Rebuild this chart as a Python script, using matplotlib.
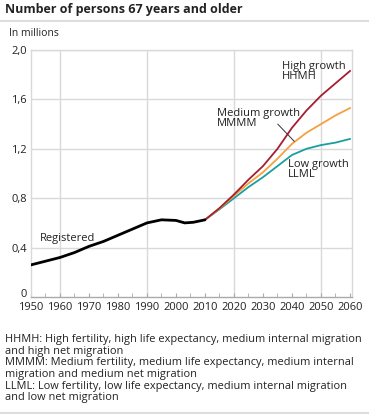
import matplotlib.pyplot as plt
from matplotlib.ticker import FixedLocator, FuncFormatter

plt.rcParams['font.family'] = ['Open Sans', 'DejaVu Sans']

# Registered values (millions)
reg_years = [1950, 1955, 1960, 1965, 1970, 1975, 1980, 1985, 1990, 1995, 2000, 2003, 2006, 2010]
reg_values = [0.26, 0.29, 0.32, 0.36, 0.41, 0.45, 0.50, 0.55, 0.60, 0.625, 0.62, 0.60, 0.605, 0.625]

# Projections (millions)
proj_years = [2010, 2015, 2020, 2025, 2030, 2035, 2040, 2045, 2050, 2055, 2060]
high_growth = [0.625, 0.72, 0.83, 0.95, 1.06, 1.20, 1.37, 1.51, 1.63, 1.73, 1.83]
medium_growth = [0.625, 0.715, 0.82, 0.92, 1.01, 1.12, 1.24, 1.33, 1.40, 1.47, 1.53]
low_growth = [0.625, 0.71, 0.80, 0.89, 0.97, 1.06, 1.15, 1.20, 1.23, 1.25, 1.28]

W, H = 369, 415
fig = plt.figure(figsize=(W / 100, H / 100), dpi=100)

grid_c = '#d9d9d9'
text_c = '#222222'
fs = 8

ax = fig.add_axes([31 / W, (H - 297) / H, (352 - 31) / W, (297 - 50) / H])
ax.set_xlim(1950, 2060.7)
ax.set_ylim(0, 2.0)

ax.plot(reg_years, reg_values, color='black', lw=2.0, solid_capstyle='round', zorder=4)
ax.plot(proj_years, low_growth, color='#1a9e9e', lw=1.3, zorder=3)
ax.plot(proj_years, medium_growth, color='#f5a040', lw=1.3, zorder=3)
ax.plot(proj_years, high_growth, color='#a31f30', lw=1.3, zorder=3)

# grid
ax.yaxis.set_major_locator(FixedLocator([0, 0.4, 0.8, 1.2, 1.6, 2.0]))
ax.yaxis.set_major_formatter(FuncFormatter(lambda v, p: '0' if v == 0 else f'{v:.1f}'.replace('.', ',')))
for v in [0.4, 0.8, 1.2, 1.6, 2.0]:
    ax.axhline(v, color=grid_c, lw=1, zorder=1)
for yr in [1960, 1990, 2020, 2050]:
    ax.axvline(yr, color=grid_c, lw=1, zorder=1)

ax.set_xticks(range(1950, 2061, 10))
ax.set_xticks(range(1950, 2061, 5), minor=True)
ax.tick_params(axis='x', which='both', direction='in', length=3, color='#aaaaaa',
               labelsize=fs, labelcolor=text_c, pad=3.5)
ax.tick_params(axis='y', length=0, labelsize=fs, labelcolor=text_c, pad=3)
# the "0" sits on the axis line, above the year labels
ax.get_yticklabels()[0].set_verticalalignment('baseline')

for s in ['left', 'right', 'bottom', 'top']:
    ax.spines[s].set_color(grid_c)
    ax.spines[s].set_linewidth(1)
ax.spines['bottom'].set_color('#aaaaaa')

# labels
ax.text(1953.1, 0.456, 'Registered', fontsize=fs, color=text_c, va='baseline')
ax.text(2036.4, 1.91, 'High growth\nHHMH', fontsize=fs, color=text_c, ha='left', va='top', linespacing=0.9)
ax.text(2014.0, 1.53, 'Medium growth\nMMMM', fontsize=fs, color=text_c, ha='left', va='top', linespacing=0.9)
ax.annotate('', xy=(2040.8, 1.26), xytext=(2035.1, 1.40),
            arrowprops=dict(arrowstyle='-', color='#333333', lw=0.7, shrinkA=0, shrinkB=0))
ax.text(2038.7, 1.12, 'Low growth\nLLML', fontsize=fs, color=text_c, ha='left', va='top', linespacing=0.9)

# title and notes
fig.text(5 / W, 1 - 10 / H, 'Number of persons 67 years and older', fontsize=9, fontweight='bold',
         color=text_c, va='center')
fig.add_artist(plt.Line2D([0, 1], [1 - 21 / H, 1 - 21 / H], color='#dddddd', lw=1.5))
fig.text(9 / W, 1 - 33 / H, 'In millions', fontsize=7.5, color=text_c, va='center')

note = ('HHMH: High fertility, high life expectancy, medium internal migration\n'
        'and high net migration\n'
        'MMMM: Medium fertility, medium life expectancy, medium internal\n'
        'migration and medium net migration\n'
        'LLML: Low fertility, low life expectancy, medium internal migration\n'
        'and low net migration')
fig.text(5 / W, 1 - 334 / H, note, fontsize=7.9, color=text_c, va='top', linespacing=1.08)
fig.add_artist(plt.Line2D([0, 1], [1 - 413 / H, 1 - 413 / H], color='#dddddd', lw=1.5))

fig.savefig('out.png', dpi=100)
